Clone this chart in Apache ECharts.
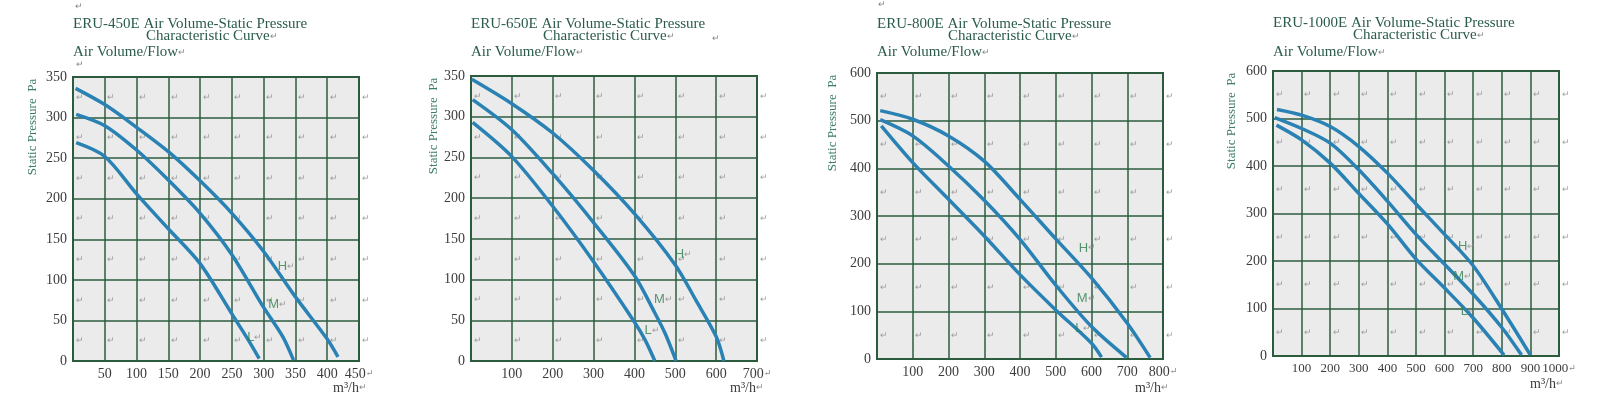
<!DOCTYPE html>
<html>
<head>
<meta charset="utf-8">
<script src="https://cdn.jsdelivr.net/npm/echarts@6/dist/echarts.min.js"></script>
<style>
html,body{margin:0;padding:0;background:#fff;}
#main{width:1600px;height:407px;}
</style>
</head>
<body>
<div id="main"></div>
<script>
// 型号
var models = ['ERU-450E', 'ERU-650E', 'ERU-800E', 'ERU-1000E'];
var curveNames = ['H', 'M', 'L'];

// 风量-静压曲线 [m3/h, Pa]
var eru450H = [[4,336],[50,316],[100,288],[150,258],[200,222],[250,182],[300,135],[350,79],[400,27],[417,5]];
var eru450M = [[5,304],[50,290],[100,260],[150,223],[200,182],[250,131],[300,66],[330,30],[347,1]];
var eru450L = [[5,269],[50,252],[100,206],[150,163],[200,120],[250,58],[275,27],[293,3]];

var eru650H = [[2,346],[100,316],[200,280],[300,234],[400,181],[500,118],[550,75],[600,30],[619,0]];
var eru650M = [[4,321],[100,284],[200,230],[300,170],[400,105],[450,59],[475,34],[502,0]];
var eru650L = [[4,293],[100,251],[200,190],[300,122],[400,48],[426,26],[450,0]];

var eru800H = [[9,521],[100,503],[200,468],[300,415],[400,335],[500,252],[600,170],[700,75],[764,3]];
var eru800M = [[9,502],[100,468],[200,405],[300,333],[400,251],[500,155],[600,68],[698,3]];
var eru800L = [[12,489],[100,412],[200,335],[300,258],[400,177],[500,103],[600,33],[628,4]];

var eru1000H = [[14,519],[100,507],[200,483],[300,441],[400,385],[500,320],[600,256],[700,190],[800,99],[899,3]];
var eru1000M = [[6,502],[100,479],[200,448],[300,392],[400,326],[500,256],[600,193],[700,130],[800,60],[869,2]];
var eru1000L = [[12,486],[100,455],[200,406],[300,342],[400,278],[500,204],[600,143],[700,80],[808,2]];

var curveData = [
	[eru450H, eru450M, eru450L],
	[eru650H, eru650M, eru650L],
	[eru800H, eru800M, eru800L],
	[eru1000H, eru1000M, eru1000L]
];

// 坐标轴范围
var xMaxes = [450, 700, 800, 1000];
var xSteps = [50, 100, 100, 100];
var yMaxes = [350, 350, 600, 600];
var ySteps = [50, 50, 100, 100];

/* ---------------- 布局 ---------------- */
var grids = [
	{left: 73, top: 77, width: 286, height: 284},
	{left: 471, top: 76, width: 286, height: 285},
	{left: 877, top: 73, width: 286, height: 286},
	{left: 1273, top: 71, width: 286, height: 285}
];
// H/M/L 标注位置 (数据坐标)
var tagPos = [
	[[336,117],[322,70],[286,29]],
	[[520,131],[471,76],[443,38]],
	[[589,233],[585,127],[576,65]],
	[[677,230],[663,167],[683,93]]
];
var line2X = [146, 543, 948, 1353];
var titleY = [25, 25, 25, 24];
var unitX = [333, 730, 1135, 1530];
var unitY = [388, 388, 388, 384];
var yNameX = [33, 434, 833, 1232];
var xLabelSize = [14, 14, 14, 13];

var serif = '"Liberation Serif", "DejaVu Serif", serif';
var titleColor = '#2b5c4a';
var gridColor = '#2c5c3e';
var curveColor = '#2a82b4';

var option = {
	animation: false,
	grid: [],
	xAxis: [],
	yAxis: [],
	series: [],
	graphic: []
};

for (var i = 0; i < models.length; i++) {
	var g = grids[i];
	option.grid.push({
		left: g.left, top: g.top, width: g.width, height: g.height,
		show: true,
		backgroundColor: '#ebebeb',
		borderColor: gridColor,
		borderWidth: 2
	});
	var xm = xMaxes[i];
	option.xAxis.push({
		gridIndex: i,
		type: 'value',
		min: 0, max: xm, interval: xSteps[i],
		axisLine: {show: true, lineStyle: {color: gridColor, width: 2}},
		axisTick: {show: false},
		splitLine: {show: true, lineStyle: {color: gridColor, width: 1.5}},
		axisLabel: {
			showMinLabel: false,
			margin: 6,
			color: '#3c3c3c',
			fontFamily: serif,
			fontSize: xLabelSize[i],
			formatter: (function (m) {
				return function (v) { return v === m ? v + '{r|↵}' : v + ''; };
			})(xm),
			rich: {r: {fontSize: 9, color: '#888'}}
		}
	});
	option.yAxis.push({
		gridIndex: i,
		type: 'value',
		min: 0, max: yMaxes[i], interval: ySteps[i],
		axisLine: {show: true, lineStyle: {color: gridColor, width: 2}},
		axisTick: {show: false},
		splitLine: {show: true, lineStyle: {color: gridColor, width: 1.5}},
		axisLabel: {
			margin: 6,
			color: '#3c3c3c',
			fontFamily: serif,
			fontSize: 14
		}
	});

	// 曲线
	for (var k = 0; k < 3; k++) {
		option.series.push({
			name: models[i] + ' ' + curveNames[k],
			type: 'line',
			xAxisIndex: i, yAxisIndex: i,
			data: curveData[i][k],
			smooth: 0.3,
			showSymbol: false,
			lineStyle: {color: curveColor, width: 3.5},
			z: 3
		});
	}

	// H/M/L 标注
	var tags = [];
	for (var k = 0; k < 3; k++) {
		tags.push({value: tagPos[i][k], name: curveNames[k]});
	}
	option.series.push({
		type: 'scatter',
		xAxisIndex: i, yAxisIndex: i,
		data: tags,
		symbolSize: 1,
		itemStyle: {color: 'rgba(0,0,0,0)'},
		silent: true,
		z: 4,
		label: {
			show: true,
			position: 'inside',
			formatter: function (p) { return '{a|' + p.name + '}{b|↵}'; },
			rich: {
				a: {fontFamily: 'Arial, "Liberation Sans", sans-serif', fontSize: 13, color: '#2f7e4e'},
				b: {fontSize: 9, color: '#888'}
			}
		}
	});

	// 单元格中的段落标记
	var marks = [];
	for (var x = 0; x <= xm; x += xSteps[i]) {
		for (var y = ySteps[i] / 2; y < yMaxes[i]; y += ySteps[i]) {
			marks.push([x, y]);
		}
	}
	option.series.push({
		type: 'scatter',
		xAxisIndex: i, yAxisIndex: i,
		data: marks,
		symbolSize: 1,
		itemStyle: {color: 'rgba(0,0,0,0)'},
		silent: true,
		z: 2,
		label: {
			show: true,
			position: 'right',
			distance: 2,
			formatter: '↵',
			fontSize: 9,
			color: '#8a8a8a'
		}
	});

	// 标题
	option.graphic.push({
		type: 'text', left: g.left, top: titleY[i] - 8,
		style: {text: models[i] + ' Air Volume-Static Pressure', font: '15px ' + serif, fill: titleColor}
	});
	option.graphic.push({
		type: 'text', left: line2X[i], top: titleY[i] + 4,
		style: {
			text: '{t|Characteristic Curve}{r|↵}',
			rich: {t: {font: '15px ' + serif, fill: titleColor}, r: {fontSize: 9, fill: '#888'}}
		}
	});
	option.graphic.push({
		type: 'text', left: g.left, top: 45,
		style: {
			text: '{t|Air Volume/Flow}{r|↵}',
			rich: {t: {font: '15px ' + serif, fill: titleColor}, r: {fontSize: 9, fill: '#888'}}
		}
	});
	// 纵轴名称
	option.graphic.push({
		type: 'text', x: yNameX[i], y: g.top + 50, rotation: Math.PI / 2,
		style: {
			text: 'Static Pressure  Pa',
			font: '13px ' + serif,
			fill: '#3d7d62',
			align: 'center',
			verticalAlign: 'middle'
		}
	});
	// 单位
	option.graphic.push({
		type: 'text', left: unitX[i], top: unitY[i] - 7,
		style: {
			text: '{t|m³/h}{r|↵}',
			rich: {t: {font: '14px ' + serif, fill: '#3c3c3c'}, r: {fontSize: 9, fill: '#888'}}
		}
	});
}

// 零散的段落标记
var looseMarks = [[75, 2], [76, 60], [712, 34], [878, 0]];
for (var j = 0; j < looseMarks.length; j++) {
	option.graphic.push({
		type: 'text', left: looseMarks[j][0], top: looseMarks[j][1],
		style: {text: '↵', fontSize: 9, fill: '#888'}
	});
}

var chart = echarts.init(document.getElementById('main'));
chart.setOption(option);
window.addEventListener('resize', function () {
	chart.resize();
});
</script>
</body>
</html>
